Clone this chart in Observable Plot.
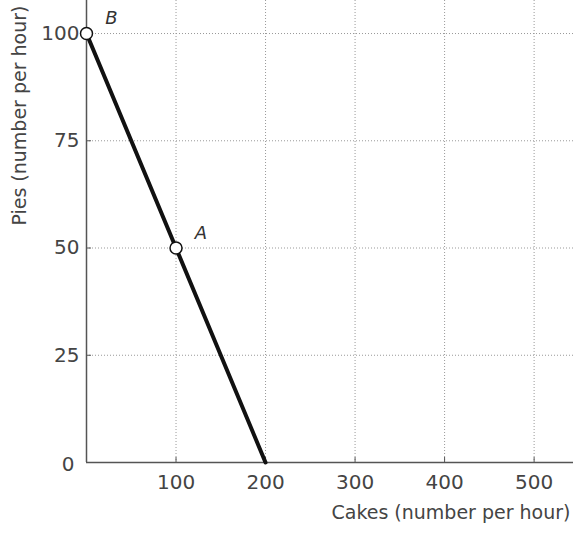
<!DOCTYPE html>
<html>
<head>
<meta charset="utf-8">
<script src="https://cdn.jsdelivr.net/npm/d3@7"></script>
<script src="https://cdn.jsdelivr.net/npm/@observablehq/plot@0.6"></script>
<style>
  html, body { margin: 0; padding: 0; background: #fff; }
  #chart svg { display: block; }
</style>
</head>
<body>
<div id="chart"></div>
<script>
// Production possibilities frontier data
const cakes = [0, 100, 200];
const pies = [100, 50, 0];
const pointNames = ["B", "A"];
const pointCakes = [0, 100];
const pointPies = [100, 50];
const xTicks = [100, 200, 300, 400, 500];
const yTicks = [0, 25, 50, 75, 100];
const xLabel = "Cakes (number per hour)";
const yLabel = "Pies (number per hour)";

const line = cakes.map((c, i) => ({cakes: c, pies: pies[i]}));
const pts = pointNames.map((n, i) => ({name: n, cakes: pointCakes[i], pies: pointPies[i]}));

const font = "DejaVu Sans";
const chart = Plot.plot({
  width: 573,
  height: 534,
  marginLeft: 86,
  marginRight: 0,
  marginTop: 0,
  marginBottom: 72,
  style: {fontFamily: font, background: "#fff", overflow: "visible"},
  x: {domain: [0, 544]},
  y: {domain: [0, 107.7]},
  marks: [
    // grid
    Plot.ruleX(xTicks, {stroke: "#999", strokeWidth: 1, strokeDasharray: "1,2"}),
    Plot.ruleY(yTicks.filter(d => d > 0), {stroke: "#999", strokeWidth: 1, strokeDasharray: "1,2"}),
    // axes
    Plot.axisX(xTicks, {tickSize: -5, tickPadding: 17, fontSize: 20, color: "#444", stroke: "#555", label: null}),
    Plot.axisY(yTicks.filter(d => d > 0), {tickSize: -5, tickPadding: 12, fontSize: 20, color: "#444", stroke: "#555", label: null}),
    Plot.axisY([0], {tickSize: 0, tickPadding: 12, fontSize: 20, color: "#444", label: null, dy: 2}),
    Plot.ruleX([0], {stroke: "#555", strokeWidth: 1.5}),
    Plot.ruleY([0], {stroke: "#555", strokeWidth: 1.5}),
    // frontier
    Plot.line(line, {x: "cakes", y: "pies", stroke: "#111", strokeWidth: 4}),
    Plot.dot(pts, {x: "cakes", y: "pies", r: 6, fill: "#fff", stroke: "#111", strokeWidth: 1.5}),
    Plot.text(pts, {x: "cakes", y: "pies", text: "name", dx: 25, dy: -15, fontSize: 18, fontStyle: "italic", fill: "#333"}),
    // axis titles
    Plot.text([xLabel], {frameAnchor: "bottom-right", text: d => d, dy: 56, dx: -3, fontSize: 19, fill: "#444", textAnchor: "end"}),
    Plot.text([yLabel], {frameAnchor: "top-left", text: d => d, rotate: -90, dx: -74, dy: 5, fontSize: 19, fill: "#444", textAnchor: "end"})
  ]
});
document.getElementById("chart").appendChild(chart);
</script>
</body>
</html>
